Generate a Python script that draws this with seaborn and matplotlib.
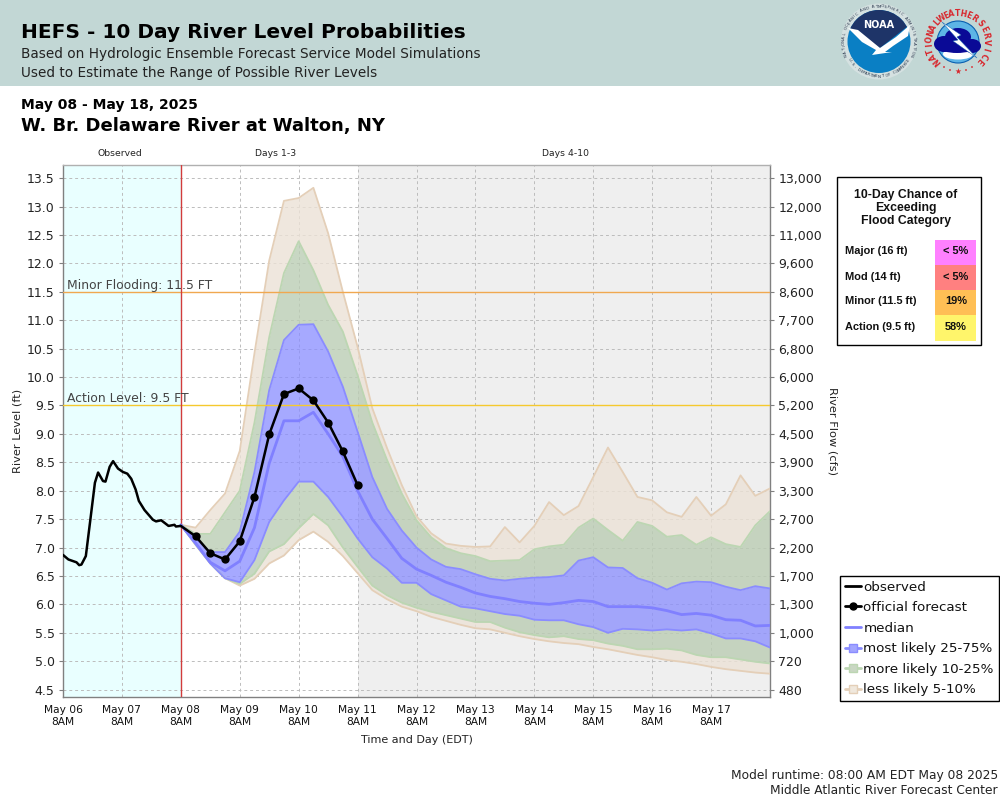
import numpy as np
import pandas as pd
import matplotlib
matplotlib.use('Agg')
import matplotlib.pyplot as plt
import matplotlib.patches as mpatches
from matplotlib.lines import Line2D
import seaborn as sns

# observed stage, hours after May 06 8AM
obs_hours = [0, 2.2, 5.5, 6.6, 7.5, 9.3, 11.2, 13, 14.3, 16.3, 17.3, 19, 20.4, 22.4, 24.4, 26.2, 27.8,
             29.6, 30.9, 33.2, 36.6, 37.9, 40, 43, 45.4, 46, 48]
obs_level = [6.87, 6.79, 6.74, 6.69, 6.70, 6.85, 7.51, 8.14, 8.32, 8.17, 8.16, 8.42, 8.52, 8.39, 8.33,
             8.30, 8.21, 8.02, 7.82, 7.66, 7.49, 7.46, 7.48, 7.38, 7.40, 7.37, 7.38]

# forecast traces, one value every 6 hours from May 08 8AM
official = [7.38, 7.20, 6.90, 6.79, 7.11, 7.89, 8.99, 9.70, 9.80, 9.59, 9.20, 8.69, 8.10]
median = [7.4, 7.08, 6.74, 6.59, 6.76, 7.35, 8.48, 9.23, 9.23, 9.38, 9.00, 8.60, 8.00, 7.50, 7.16, 6.81,
          6.62, 6.51, 6.39, 6.30, 6.20, 6.14, 6.10, 6.05, 6.02, 6.00, 6.03, 6.07, 6.05, 5.96, 5.96, 5.96,
          5.94, 5.89, 5.82, 5.84, 5.81, 5.73, 5.72, 5.62, 5.63]
p75 = [7.4, 7.16, 6.92, 6.92, 7.28, 8.33, 9.77, 10.65, 10.92, 10.93, 10.45, 9.83, 9.04, 8.24, 7.68, 7.30,
       7.00, 6.79, 6.66, 6.62, 6.53, 6.45, 6.42, 6.45, 6.47, 6.48, 6.51, 6.77, 6.83, 6.65, 6.64, 6.46,
       6.38, 6.26, 6.37, 6.40, 6.39, 6.31, 6.25, 6.32, 6.28]
p25 = [7.4, 7.06, 6.72, 6.46, 6.39, 6.78, 7.45, 7.83, 8.16, 8.16, 7.89, 7.54, 7.16, 6.83, 6.63, 6.38,
       6.38, 6.18, 6.07, 5.96, 5.93, 5.88, 5.83, 5.80, 5.73, 5.72, 5.72, 5.65, 5.60, 5.50, 5.57, 5.56,
       5.54, 5.56, 5.54, 5.56, 5.49, 5.40, 5.40, 5.35, 5.24]
p90 = [7.4, 7.24, 7.24, 7.62, 8.00, 9.20, 10.70, 11.83, 12.39, 11.88, 11.27, 10.80, 10.03, 9.20, 8.54, 7.95,
       7.48, 7.18, 6.99, 6.90, 6.85, 6.76, 6.77, 6.78, 6.97, 7.02, 7.05, 7.35, 7.51, 7.31, 7.12, 7.45,
       7.38, 7.19, 7.22, 7.05, 7.18, 7.06, 7.01, 7.39, 7.64]
p10 = [7.4, 7.05, 6.72, 6.46, 6.36, 6.54, 6.93, 7.06, 7.34, 7.59, 7.39, 7.00, 6.66, 6.33, 6.16, 6.03,
       5.94, 5.87, 5.81, 5.75, 5.69, 5.69, 5.59, 5.51, 5.46, 5.42, 5.44, 5.39, 5.37, 5.31, 5.27, 5.21,
       5.21, 5.22, 5.19, 5.11, 5.07, 5.07, 5.03, 4.99, 4.96]
p95 = [7.4, 7.35, 7.66, 7.95, 8.70, 10.42, 12.05, 13.10, 13.15, 13.33, 12.53, 11.50, 10.53, 9.45, 8.75, 8.10,
       7.55, 7.25, 7.07, 7.03, 7.01, 7.02, 7.36, 7.09, 7.38, 7.80, 7.57, 7.73, 8.24, 8.76, 8.33, 7.89,
       7.83, 7.62, 7.54, 7.89, 7.56, 7.76, 8.27, 7.91, 8.04]
p05 = [7.4, 7.05, 6.72, 6.46, 6.33, 6.45, 6.72, 6.86, 7.13, 7.28, 7.10, 6.85, 6.55, 6.25, 6.09, 5.96,
       5.88, 5.78, 5.71, 5.64, 5.58, 5.56, 5.50, 5.44, 5.39, 5.35, 5.32, 5.30, 5.25, 5.21, 5.16, 5.11,
       5.07, 5.02, 4.99, 4.95, 4.90, 4.86, 4.83, 4.80, 4.78]

level_ticks = [4.5, 5.0, 5.5, 6.0, 6.5, 7.0, 7.5, 8.0, 8.5, 9.0, 9.5, 10.0, 10.5, 11.0, 11.5, 12.0, 12.5, 13.0, 13.5]
flow_labels = ['480', '720', '1,000', '1,300', '1,700', '2,200', '2,700', '3,300', '3,900', '4,500',
               '5,200', '6,000', '6,800', '7,700', '8,600', '9,600', '11,000', '12,000', '13,000']

flood_names = ['Major (16 ft)', 'Mod (14 ft)', 'Minor (11.5 ft)', 'Action (9.5 ft)']
flood_chance = ['< 5%', '< 5%', '19%', '58%']
flood_colors = ['#FF80FF', '#FF8080', '#FFBF55', '#FFF56B']

TAN, TAN_EDGE = '#ECE2D6', '#E4CFB8'
GREEN, GREEN_EDGE = '#BBCDB4', '#BCD6B2'
BLUE, BLUE_EDGE = '#898DFF', '#8A8CFF'

sns.set_theme(style='white')
plt.rcParams['font.family'] = ['DejaVu Sans']

fig = plt.figure(figsize=(10, 8), dpi=100)
ax = fig.add_axes([0.063, 1 - 697 / 800, 0.707, 532.5 / 800])

start = pd.Timestamp('2025-05-06 08:00')
t0 = pd.Timestamp('2025-05-08 08:00')
t_end = pd.Timestamp('2025-05-18 08:00')
t_days4 = pd.Timestamp('2025-05-11 08:00')
times = pd.date_range(t0, t_end, freq='6h')
obs_df = pd.DataFrame({'time': start + pd.to_timedelta(obs_hours, unit='h'), 'level': obs_level})
fcst_df = pd.DataFrame({'time': times[:len(official)], 'level': official})
med_df = pd.DataFrame({'time': times, 'level': median})

ax.axvspan(start, t0, color='#E9FFFF', lw=0, zorder=0)
ax.axvspan(t_days4, t_end, color='#EFEFEF', lw=0, zorder=0)
ax.grid(True, color='#bcbcbc', ls=(0, (3, 3)), lw=0.7, zorder=1)
ax.set_axisbelow(True)

# bands, outer to inner
ax.fill_between(times, p90, p95, color=TAN, alpha=0.8, lw=0, zorder=2)
ax.fill_between(times, p05, p10, color=TAN, alpha=0.8, lw=0, zorder=2)
ax.fill_between(times, p75, p90, color=GREEN, alpha=0.8, lw=0, zorder=2)
ax.fill_between(times, p10, p25, color=GREEN, alpha=0.8, lw=0, zorder=2)
ax.fill_between(times, p25, p75, color=BLUE, alpha=0.75, lw=0, zorder=2)
for vals, col in [(p95, TAN_EDGE), (p05, TAN_EDGE), (p90, GREEN_EDGE), (p10, GREEN_EDGE),
                  (p75, BLUE_EDGE), (p25, BLUE_EDGE)]:
    ax.plot(times, vals, color=col, lw=1.3, zorder=3)

ax.axhline(11.5, color='#F0A850', lw=1, zorder=3)
ax.axhline(9.5, color='#F5C92E', lw=1, zorder=3)
ax.axvline(t0, color='#D23C3C', lw=1, zorder=3)

sns.lineplot(data=med_df, x='time', y='level', color='#8080FF', lw=2, ax=ax, zorder=4)
sns.lineplot(data=obs_df, x='time', y='level', color='black', lw=1.8, ax=ax, zorder=5)
sns.lineplot(data=fcst_df, x='time', y='level', color='black', lw=1.8, ax=ax, zorder=5)
sns.scatterplot(data=fcst_df.iloc[1:], x='time', y='level', color='black', s=36, lw=0, ax=ax, zorder=6)

ax.set_xlim(start, t_end)
ax.set_ylim(4.37, 13.74)
ax.set_yticks(level_ticks)
ax.set_yticklabels([f'{v:.1f}' for v in level_ticks], fontsize=9, color='#222222')
day_ticks = pd.date_range(start, t_end - pd.Timedelta(days=1), freq='D')
ax.set_xticks(day_ticks)
ax.set_xticklabels([d.strftime('%b %d') + '\n8AM' for d in day_ticks], fontsize=7.7, color='#111111')
ax.set_xlabel('')
ax.set_ylabel('')
ax.tick_params(axis='both', length=3, width=0.8, color='#808080', pad=3)
for name, s in ax.spines.items():
    s.set_color('#b0b0b0' if name == 'top' else '#808080')
    s.set_linewidth(1)

ax2 = ax.twinx()
ax2.set_ylim(ax.get_ylim())
ax2.set_yticks(level_ticks)
ax2.set_yticklabels(flow_labels, fontsize=9, color='#222222')
ax2.tick_params(axis='y', length=3, width=0.8, color='#808080', pad=3)
ax2.grid(False)
for s in ax2.spines.values():
    s.set_visible(False)

ax.text(pd.Timestamp('2025-05-06 09:40'), 11.5, 'Minor Flooding: 11.5 FT', fontsize=8.9, color='#444444', va='bottom', zorder=7)
ax.text(pd.Timestamp('2025-05-06 09:40'), 9.5, 'Action Level: 9.5 FT', fontsize=8.9, color='#444444', va='bottom', zorder=7)

# overlay in pixel coordinates for header, panel, notes
ov = fig.add_axes([0, 0, 1, 1], facecolor='none')
ov.set_xlim(0, 1000)
ov.set_ylim(800, 0)
ov.axis('off')


def arc_text(txt, cx, cy, r, a_start, a_end, **kw):
    # angles in degrees, clockwise from top
    angs = np.linspace(a_start, a_end, len(txt))
    flip = a_end < a_start
    for ch, a in zip(txt, angs):
        rad = np.radians(a)
        ov.text(cx + r * np.sin(rad), cy - r * np.cos(rad), ch, ha='center', va='center',
                rotation=(180 - a if flip else -a), rotation_mode='anchor', **kw)


ov.add_patch(mpatches.Rectangle((0, 0), 1000, 86, color='#C2D7D5', lw=0))
ov.text(21, 33, 'HEFS - 10 Day River Level Probabilities', fontsize=14.5, fontweight='bold', color='black', va='center')
ov.text(21, 54, 'Based on Hydrologic Ensemble Forecast Service Model Simulations', fontsize=9.85, color='#222222', va='center')
ov.text(21, 73, 'Used to Estimate the Range of Possible River Levels', fontsize=9.85, color='#222222', va='center')
ov.text(21, 105, 'May 08 - May 18, 2025', fontsize=10, fontweight='bold', color='black', va='center')
ov.text(21, 126, 'W. Br. Delaware River at Walton, NY', fontsize=13, fontweight='bold', color='black', va='center')
ov.text(120, 153.5, 'Observed', fontsize=6.7, ha='center', va='center', color='#222222')
ov.text(276, 153.5, 'Days 1-3', fontsize=6.7, ha='center', va='center', color='#222222')
ov.text(566, 153.5, 'Days 4-10', fontsize=6.7, ha='center', va='center', color='#222222')
ov.text(18, 431, 'River Level (ft)', fontsize=8.2, rotation=90, ha='center', va='center', color='#222222')
ov.text(832, 431, 'River Flow (cfs)', fontsize=8.2, rotation=270, ha='center', va='center', color='#222222')
ov.text(417, 740, 'Time and Day (EDT)', fontsize=8, ha='center', va='center', color='#222222')
ov.text(998, 775, 'Model runtime: 08:00 AM EDT May 08 2025', fontsize=8.85, ha='right', va='center', color='#222222')
ov.text(998, 791, 'Middle Atlantic River Forecast Center', fontsize=8.85, ha='right', va='center', color='#222222')

# NOAA logo
disc = mpatches.Circle((879, 41.5), 31.5, color='#0A7FC4', lw=0)
ov.add_patch(mpatches.Circle((879, 41.5), 38, color='#D5E1E1', lw=0))
ov.add_patch(disc)
navy = mpatches.Polygon([(840, 0), (920, 0), (920, 22), (908, 26), (880, 48), (850, 28), (840, 26)], color='#1E3468', lw=0)
ov.add_patch(navy)
navy.set_clip_path(disc)
bird = mpatches.Polygon([(848, 28), (858, 30), (880, 48), (896, 37), (910, 25), (908, 36), (893, 46), (885, 52),
                         (892, 52), (872, 55), (876, 50), (862, 42)], color='white', lw=0)
ov.add_patch(bird)
ov.text(879, 25, 'NOAA', fontsize=7, fontweight='bold', color='white', ha='center', va='center')
arc_text('NATIONAL OCEANIC AND ATMOSPHERIC ADMINISTRATION', 879, 41.5, 35, -112, 112, fontsize=2.9, color='#26344A')
arc_text('U.S. DEPARTMENT OF COMMERCE', 879, 41.5, 35, 238, 122, fontsize=2.9, color='#26344A')

# NWS logo
ov.add_patch(mpatches.Circle((958, 42), 21, fc='#5DB5E6', ec='#0A60B0', lw=0.8))
ov.add_patch(mpatches.Ellipse((958, 54), 30, 11, color='white', lw=0))
for cx, cy, w, h in [(944, 44, 20, 16), (958, 37, 26, 18), (972, 46, 18, 14), (957, 47, 36, 12)]:
    ov.add_patch(mpatches.Ellipse((cx, cy), w, h, color='#0A0A96', lw=0))
ov.add_patch(mpatches.Polygon([(942, 22), (961, 35), (957, 37), (977, 58), (953, 41), (958, 40)], fc='white', ec='#0A60B0', lw=0.3))
arc_text('NATIONAL', 958, 42, 28.5, -132, -48, fontsize=5.6, fontweight='bold', color='#D8262C')
arc_text('WEATHER', 958, 42, 28.5, -36, 34, fontsize=5.6, fontweight='bold', color='#D8262C')
arc_text('SERVICE', 958, 42, 28.5, 50, 132, fontsize=5.6, fontweight='bold', color='#D8262C')
ov.text(958, 71, '★', fontsize=5.5, color='#D8262C', ha='center', va='center')
for px, py in [(950, 70), (966, 70), (944, 67), (972, 67)]:
    ov.add_patch(mpatches.Circle((px, py), 0.9, color='#D8262C', lw=0))

# flood category panel
ov.add_patch(mpatches.Rectangle((836.5, 176.5), 144, 168.5, fc='white', ec='black', lw=1))
for y, line in zip([195, 207.8, 220.8], ['10-Day Chance of', 'Exceeding', 'Flood Category']):
    ov.text(906, y, line, fontsize=8.8, fontweight='bold', family='Liberation Sans', ha='center', va='center', color='#111111')
for i, (name, chance, col) in enumerate(zip(flood_names, flood_chance, flood_colors)):
    top = 240 + i * 25
    ov.add_patch(mpatches.Rectangle((935, top), 41, 26 if i == 3 else 25, color=col, lw=0))
    ov.text(845, top + 11.5, name, fontsize=7.9, fontweight='bold', family='Liberation Sans', va='center', color='#111111')
    ov.text(956, top + 11.5, chance, fontsize=7.9, fontweight='bold', family='Liberation Sans', ha='center', va='center', color='#111111')

# legend
handles = [
    Line2D([], [], color='black', lw=2),
    Line2D([], [], color='black', lw=2, marker='o', ms=5),
    Line2D([], [], color='#8080FF', lw=2),
    Line2D([], [], color='#8A8CFF', lw=2, marker='s', ms=6, mfc='#A2A5FF', mec='#8A8CFF'),
    Line2D([], [], color='#BCD6B2', lw=2, marker='s', ms=6, mfc='#C9D7C3', mec='#BCD6B2'),
    Line2D([], [], color='#E4CFB8', lw=2, marker='s', ms=6, mfc='#F0E8DD', mec='#E4CFB8'),
]
labels = ['observed', 'official forecast', 'median', 'most likely 25-75%', 'more likely 10-25%', 'less likely 5-10%']
leg = ov.legend(handles, labels, loc='upper left', bbox_to_anchor=(839.5 / 1000, 1 - 575.5 / 800),
                bbox_transform=fig.transFigure, fontsize=9.7, frameon=True, fancybox=False, framealpha=1,
                edgecolor='black', handlelength=1.2, handletextpad=0.2, labelspacing=0.56,
                borderpad=0.38, borderaxespad=0, labelcolor='#111111')
leg.get_frame().set_linewidth(1)

fig.savefig('out.png', dpi=100)
